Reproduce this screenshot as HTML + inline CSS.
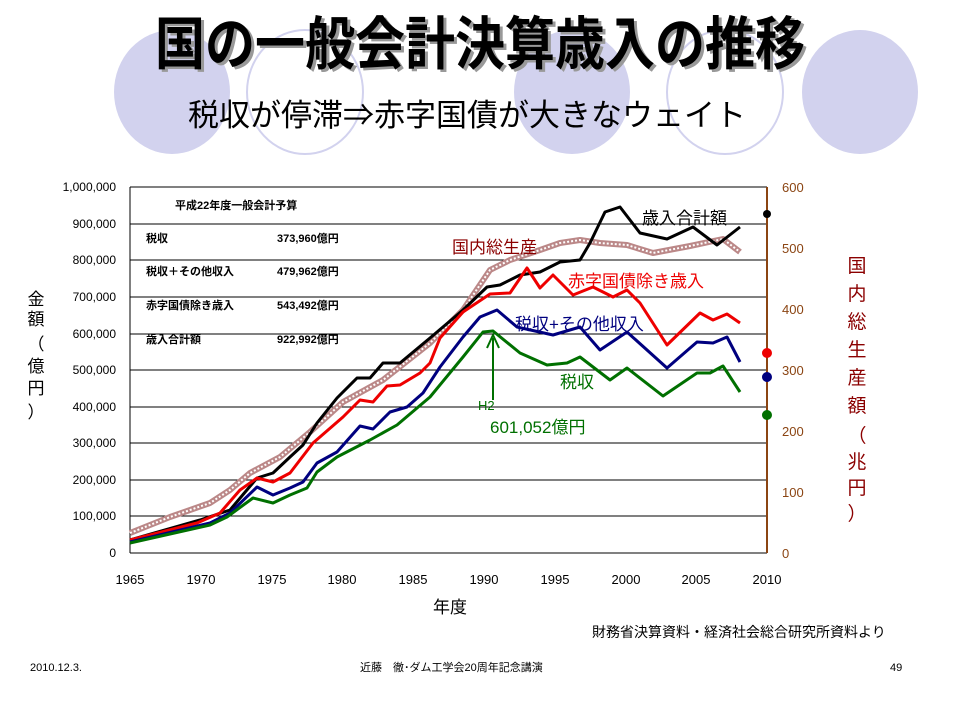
<!DOCTYPE html><html><head><meta charset="utf-8"><style>body{margin:0;background:#fff}svg{display:block}</style></head><body>
<svg width="960" height="720" xmlns="http://www.w3.org/2000/svg" font-family="Liberation Sans, Noto Sans CJK JP, sans-serif">
<g fill="#d2d2ee"><ellipse cx="172" cy="92" rx="58" ry="62"/><ellipse cx="572" cy="92" rx="58" ry="62"/><ellipse cx="860" cy="92" rx="58" ry="62"/></g>
<g fill="none" stroke="#d2d2ee" stroke-width="2"><ellipse cx="305" cy="92" rx="58" ry="62"/><ellipse cx="725" cy="92" rx="58" ry="62"/></g>
<g transform="translate(480,64) scale(1.0,1.15)"><text x="3" y="2" font-size="50" font-weight="bold" fill="#999" text-anchor="middle">国の一般会計決算歳入の推移</text>
<text x="0" y="0" font-size="50" font-weight="bold" fill="#000" text-anchor="middle">国の一般会計決算歳入の推移</text></g>
<text x="467" y="126" font-size="31" fill="#000" text-anchor="middle">税収が停滞⇒赤字国債が大きなウェイト</text>
<g stroke="#000" stroke-width="1"><line x1="130" y1="187" x2="767" y2="187"/><line x1="130" y1="224" x2="767" y2="224"/><line x1="130" y1="260" x2="767" y2="260"/><line x1="130" y1="297" x2="767" y2="297"/><line x1="130" y1="334" x2="767" y2="334"/><line x1="130" y1="370" x2="767" y2="370"/><line x1="130" y1="407" x2="767" y2="407"/><line x1="130" y1="443" x2="767" y2="443"/><line x1="130" y1="480" x2="767" y2="480"/><line x1="130" y1="516" x2="767" y2="516"/><line x1="130" y1="553" x2="767" y2="553"/><line x1="130" y1="187" x2="130" y2="553"/></g>
<line x1="767" y1="187" x2="767" y2="553" stroke="#8b4513" stroke-width="2"/>
<g font-size="12" text-anchor="end" fill="#000"><text x="116" y="191">1,000,000</text><text x="116" y="228">900,000</text><text x="116" y="264">800,000</text><text x="116" y="301">700,000</text><text x="116" y="338">600,000</text><text x="116" y="374">500,000</text><text x="116" y="411">400,000</text><text x="116" y="447">300,000</text><text x="116" y="484">200,000</text><text x="116" y="520">100,000</text><text x="116" y="557">0</text></g>
<g font-size="13" fill="#8b4513"><text x="782" y="192">600</text><text x="782" y="253">500</text><text x="782" y="314">400</text><text x="782" y="375">300</text><text x="782" y="436">200</text><text x="782" y="497">100</text><text x="782" y="558">0</text></g>
<g font-size="13" text-anchor="middle"><text x="130" y="584">1965</text><text x="201" y="584">1970</text><text x="272" y="584">1975</text><text x="342" y="584">1980</text><text x="413" y="584">1985</text><text x="484" y="584">1990</text><text x="555" y="584">1995</text><text x="626" y="584">2000</text><text x="696" y="584">2005</text><text x="767" y="584">2010</text></g>
<text x="450" y="613" font-size="17" text-anchor="middle">年度</text>
<g font-size="17" text-anchor="middle"><text x="36" y="305">金</text><text x="36" y="325">額</text><text x="36" y="350">（</text><text x="36" y="372">億</text><text x="36" y="394">円</text><text x="36" y="418">）</text></g>
<g font-size="19" fill="#8b0000" text-anchor="middle"><text x="857" y="272">国</text><text x="857" y="300">内</text><text x="857" y="328">総</text><text x="857" y="356">生</text><text x="857" y="384">産</text><text x="857" y="412">額</text><text x="857" y="442">（</text><text x="857" y="468">兆</text><text x="857" y="494">円</text><text x="857" y="520">）</text></g>
<g font-size="11" font-weight="bold"><text x="175" y="209">平成22年度一般会計予算</text><text x="146" y="242">税収</text><text x="277" y="242">373,960億円</text><text x="146" y="275">税収＋その他収入</text><text x="277" y="275">479,962億円</text><text x="146" y="309">赤字国債除き歳入</text><text x="277" y="309">543,492億円</text><text x="146" y="343">歳入合計額</text><text x="277" y="343">922,992億円</text></g>
<g fill="none" stroke-linejoin="round">
<polyline stroke="#b88" stroke-width="6" points="130,533 170,517 210,503 230,490 250,473 280,457 310,432 343,402 383,380 430,343 463,310 490,270 510,260 540,250 560,243 580,240 600,243 627,245 653,253 690,246 723,239 740,252"/>
<polyline stroke="#fff" stroke-width="2" stroke-dasharray="2 2" points="130,533 170,517 210,503 230,490 250,473 280,457 310,432 343,402 383,380 430,343 463,310 490,270 510,260 540,250 560,243 580,240 600,243 627,245 653,253 690,246 723,239 740,252"/>
<polyline stroke="#000" stroke-width="3" points="130,540 200,520 230,510 257,478 273,473 290,457 303,445 317,423 337,398 357,378 370,378 383,363 400,363 430,338 463,310 487,287 500,285 520,275 540,272 560,262 580,260 590,243 605,212 620,207 630,220 640,233 667,239 693,227 717,245 740,227"/>
<polyline stroke="#e00" stroke-width="3" points="130,540 197,523 220,513 240,490 257,478 273,482 290,473 313,443 343,417 360,400 373,402 387,386 400,385 420,373 430,363 440,338 463,312 490,294 510,293 527,268 540,288 553,275 573,295 593,287 613,297 627,290 640,303 667,345 700,313 713,320 727,314 740,323"/>
<polyline stroke="#00007f" stroke-width="3" points="130,542 210,523 230,513 257,487 273,495 290,488 303,482 317,463 337,452 360,426 373,429 390,412 407,407 423,393 440,367 463,337 480,317 497,310 517,327 553,335 580,327 600,350 627,332 667,368 697,342 713,343 727,337 740,362"/>
<polyline stroke="#007000" stroke-width="3" points="130,543 210,525 227,517 253,498 273,503 290,495 307,488 317,472 337,457 370,440 397,425 430,397 463,357 483,332 493,331 520,353 547,365 567,363 580,357 610,380 627,368 663,396 697,373 710,373 723,366 740,392"/>
</g>
<line x1="493" y1="400" x2="493" y2="338" stroke="#007000" stroke-width="2"/><polyline points="487,348 493,335 499,348" fill="none" stroke="#007000" stroke-width="2"/>
<text x="478" y="410" font-size="13" fill="#007000">H2</text>
<text x="490" y="433" font-size="17" fill="#007000">601,052億円</text>
<text x="642" y="224" font-size="17">歳入合計額</text>
<text x="452" y="253" font-size="17" fill="#8b0000">国内総生産</text>
<text x="568" y="287" font-size="17" fill="#e00">赤字国債除き歳入</text>
<text x="515" y="330" font-size="17" fill="#00007f">税収+その他収入</text>
<text x="560" y="388" font-size="17" fill="#007000">税収</text>
<circle cx="767" cy="214" r="4" fill="#000"/><circle cx="767" cy="353" r="5" fill="#e00"/><circle cx="767" cy="377" r="5" fill="#00007f"/><circle cx="767" cy="415" r="5" fill="#007000"/>
<text x="592" y="637" font-size="14">財務省決算資料・経済社会総合研究所資料より</text>
<text x="30" y="671" font-size="11">2010.12.3.</text>
<text x="360" y="671" font-size="11">近藤　徹･ダム工学会20周年記念講演</text>
<text x="890" y="671" font-size="11">49</text>
</svg></body></html>
